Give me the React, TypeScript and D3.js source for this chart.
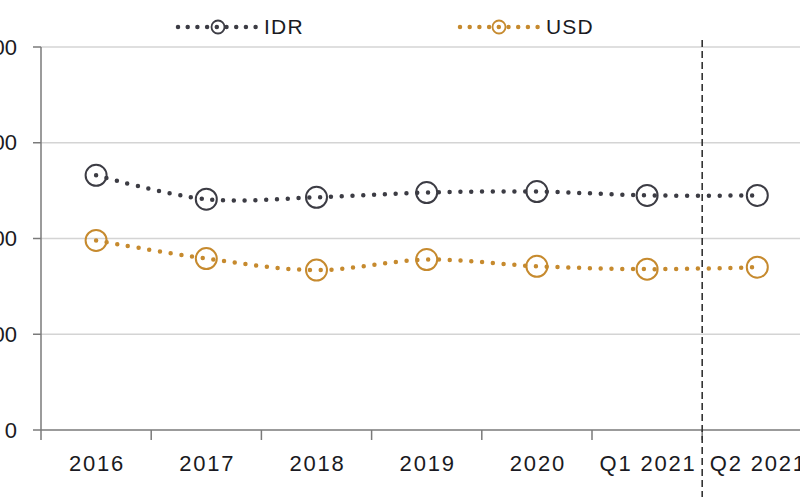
import React from "react";
import * as d3 from "d3";

const categories = ["2016", "2017", "2018", "2019", "2020", "Q1 2021", "Q2 2021"];
const idrValues = [266, 241, 243, 248, 249, 245, 245];
const usdValues = [198, 179, 167, 178, 171, 168, 170];
const yTicks = [0, 100, 200, 300, 400];
const seriesNames = ["IDR", "USD"];

const W = 800;
const H = 500;
const left = 41;
const bandW = 110.2;
const top = 47;
const bottom = 430;

const IDR_COLOR = "#3c3c44";
const USD_COLOR = "#c68a2e";

export default function App() {
  const x = d3
    .scaleBand<string>()
    .domain(categories)
    .range([left, left + bandW * categories.length])
    .paddingInner(0)
    .paddingOuter(0);
  const y = d3.scaleLinear().domain([0, 400]).range([bottom, top]);

  const cx = (c: string) => (x(c) as number) + x.bandwidth() / 2;
  const line = d3
    .line<number>()
    .x((_, i) => cx(categories[i]))
    .y((d) => y(d))
    .curve(d3.curveCatmullRom.alpha(0.5));

  const series = [
    { name: seriesNames[0], values: idrValues, color: IDR_COLOR },
    { name: seriesNames[1], values: usdValues, color: USD_COLOR },
  ];

  const tickXs = categories.map((c) => x(c) as number);
  const font = "'Liberation Sans', Arial, sans-serif";
  const dashX = x("Q2 2021") as number;

  const legendItems = [
    { name: seriesNames[0], color: IDR_COLOR, x0: 178, x1: 256, cxl: 218, tx: 264 },
    { name: seriesNames[1], color: USD_COLOR, x0: 460, x1: 538, cxl: 499, tx: 546 },
  ];

  return (
    <svg
      width={W}
      height={H}
      style={{ position: "absolute", left: 0, top: 0, background: "#fff", overflow: "hidden" }}
    >
      <rect x={0} y={0} width={W} height={H} fill="#fff" />
      {/* gridlines */}
      {yTicks.filter((t) => t > 0).map((t) => (
        <line key={"g" + t} x1={left} x2={W} y1={y(t)} y2={y(t)} stroke="#d4d4d4" strokeWidth={1.5} />
      ))}
      {/* y axis */}
      <line x1={left} x2={left} y1={top} y2={bottom} stroke="#7a7a7a" strokeWidth={1.5} />
      {yTicks.map((t) => (
        <g key={"yt" + t}>
          <line x1={33} x2={left} y1={y(t)} y2={y(t)} stroke="#7a7a7a" strokeWidth={1.5} />
          <text
            x={17}
            y={y(t)}
            dy="0.35em"
            textAnchor="end"
            fontFamily={font}
            fontSize={22}
            fill="#1a1a22"
          >
            {t}
          </text>
        </g>
      ))}
      {/* x axis */}
      <line x1={left} x2={W} y1={bottom} y2={bottom} stroke="#7a7a7a" strokeWidth={1.5} />
      {tickXs.map((tx, i) => (
        <line key={"xt" + i} x1={tx} x2={tx} y1={bottom} y2={bottom + 10} stroke="#7a7a7a" strokeWidth={1.5} />
      ))}
      {categories.map((c) => (
        <text
          key={"xl" + c}
          x={cx(c) + 1}
          y={471}
          textAnchor="middle"
          fontFamily={font}
          fontSize={22}
          letterSpacing={1.8}
          fill="#1a1a22"
        >
          {c}
        </text>
      ))}
      {/* dashed separator */}
      <line x1={dashX} x2={dashX} y1={40} y2={497} stroke="#333" strokeWidth={1.6} strokeDasharray="7 4" />
      {/* series */}
      {series.map((s) => (
        <g key={s.name}>
          <path
            d={line(s.values) || ""}
            fill="none"
            stroke={s.color}
            strokeWidth={4.5}
            strokeLinecap="round"
            strokeDasharray="0 10.8"
          />
          {s.values.map((v, i) => (
            <circle
              key={i}
              cx={cx(categories[i])}
              cy={y(v)}
              r={10.5}
              fill="none"
              stroke={s.color}
              strokeWidth={2}
            />
          ))}
        </g>
      ))}
      {/* legend */}
      {legendItems.map((l) => (
        <g key={"lg" + l.name}>
          <line
            x1={l.x0}
            x2={l.x1}
            y1={27}
            y2={27}
            stroke={l.color}
            strokeWidth={4.5}
            strokeLinecap="round"
            strokeDasharray="0 9.7"
          />
          <circle cx={l.cxl} cy={27} r={6.5} fill="none" stroke={l.color} strokeWidth={1.8} />
          <text
            x={l.tx}
            y={27}
            dy="0.35em"
            fontFamily={font}
            fontSize={21}
            letterSpacing={1.2}
            fill="#1a1a22"
          >
            {l.name}
          </text>
        </g>
      ))}
    </svg>
  );
}
